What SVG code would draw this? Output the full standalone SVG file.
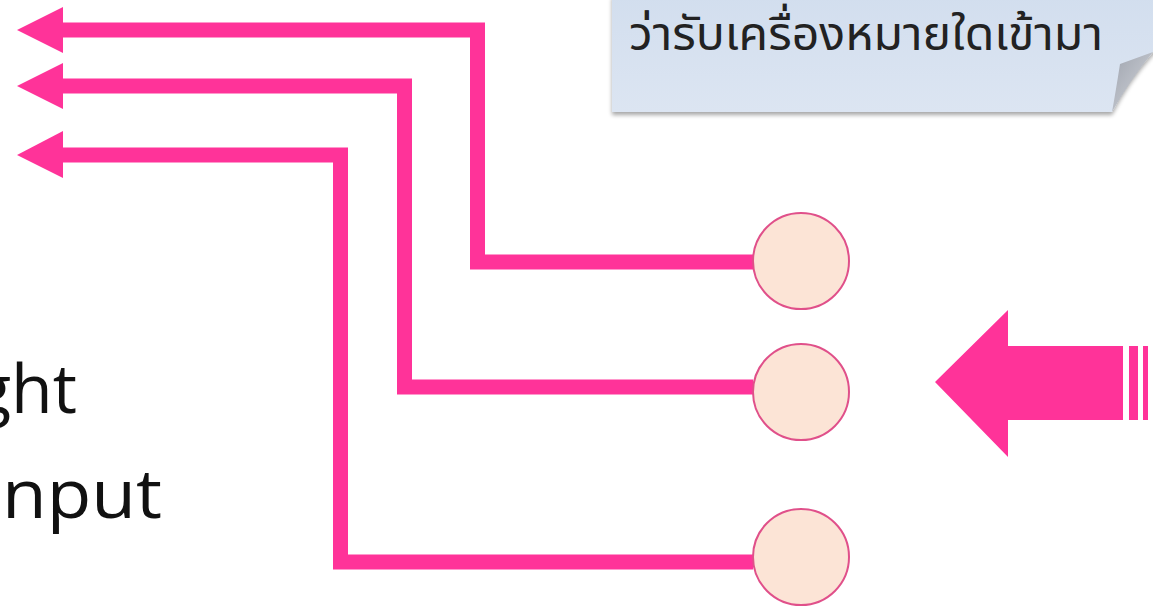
<svg xmlns="http://www.w3.org/2000/svg" width="1153" height="613" viewBox="0 0 1153 613">
<defs>
<style>
.wire{fill:none;stroke:#FF3399;stroke-width:15;stroke-linejoin:miter}
.head{fill:#FF3399}
.pin{fill:#FCE4D6;stroke:#E0508A;stroke-width:2}
.lbl{font-family:"Open Sans","Noto Sans",sans-serif;font-size:68px;fill:#111}
.thai{font-family:Tahoma,"Leelawadee UI","Noto Sans Thai","Noto Sans Thai UI",Loma,"Noto Sans","DejaVu Sans",sans-serif;font-size:46px;fill:#222}
</style>
<linearGradient id="callg" x1="0" y1="0" x2="0" y2="1">
<stop offset="0" stop-color="#D2DEEE"/>
<stop offset="1" stop-color="#DCE5F2"/>
</linearGradient>
<linearGradient id="foldg" x1="0" y1="0" x2="1" y2="1">
<stop offset="0" stop-color="#9EA3AD"/>
<stop offset="1" stop-color="#D5D8DE"/>
</linearGradient>
<filter id="sh" x="-5%" y="-20%" width="110%" height="150%">
<feGaussianBlur in="SourceAlpha" stdDeviation="2"/>
<feOffset dx="0" dy="3"/>
<feComponentTransfer><feFuncA type="linear" slope="0.35"/></feComponentTransfer>
<feMerge><feMergeNode/><feMergeNode in="SourceGraphic"/></feMerge>
</filter>
</defs>
<rect width="1153" height="613" fill="#FFFFFF"/>

<g id="callout">
<path d="M612,-5 L1160,-5 L1160,50 L1153,52 Q1128,80 1112,112 L612,112 Z" fill="url(#callg)" filter="url(#sh)"/>
<path d="M1153,52 L1120,64 Q1116,90 1112,112 Q1130,80 1153,52 Z" fill="url(#foldg)"/>
<text class="thai" x="629" y="50" textLength="474" lengthAdjust="spacingAndGlyphs">ว่ารับเครื่องหมายใดเข้ามา</text>
</g>

<g id="connectors">
<polyline class="wire" points="753,262 477.5,262 477.5,30 60,30"/>
<polyline class="wire" points="753,387 404.5,387 404.5,86 60,86"/>
<polyline class="wire" points="753,562 340.5,562 340.5,155 60,155"/>
<polygon class="head" points="17,30 63,7 63,53"/>
<polygon class="head" points="17,86 63,63 63,109"/>
<polygon class="head" points="17,155 63,131 63,178"/>
</g>

<g id="pin1"><circle class="pin" cx="801" cy="261" r="48"/></g>
<g id="pin2"><circle class="pin" cx="801" cy="392" r="48"/></g>
<g id="pin3"><circle class="pin" cx="801" cy="557" r="48"/></g>

<g id="input-arrow">
<polygon class="head" points="935,382 1008,310 1008,346 1123,346 1123,420 1008,420 1008,457"/>
<rect class="head" x="1129" y="346" width="9" height="74"/>
<rect class="head" x="1143" y="346" width="5" height="74"/>
</g>

<g id="labels">
<text class="lbl" x="77" y="413" text-anchor="end">ght</text>
<text class="lbl" x="2" y="518" textLength="160" lengthAdjust="spacingAndGlyphs">nput</text>
</g>
</svg>
